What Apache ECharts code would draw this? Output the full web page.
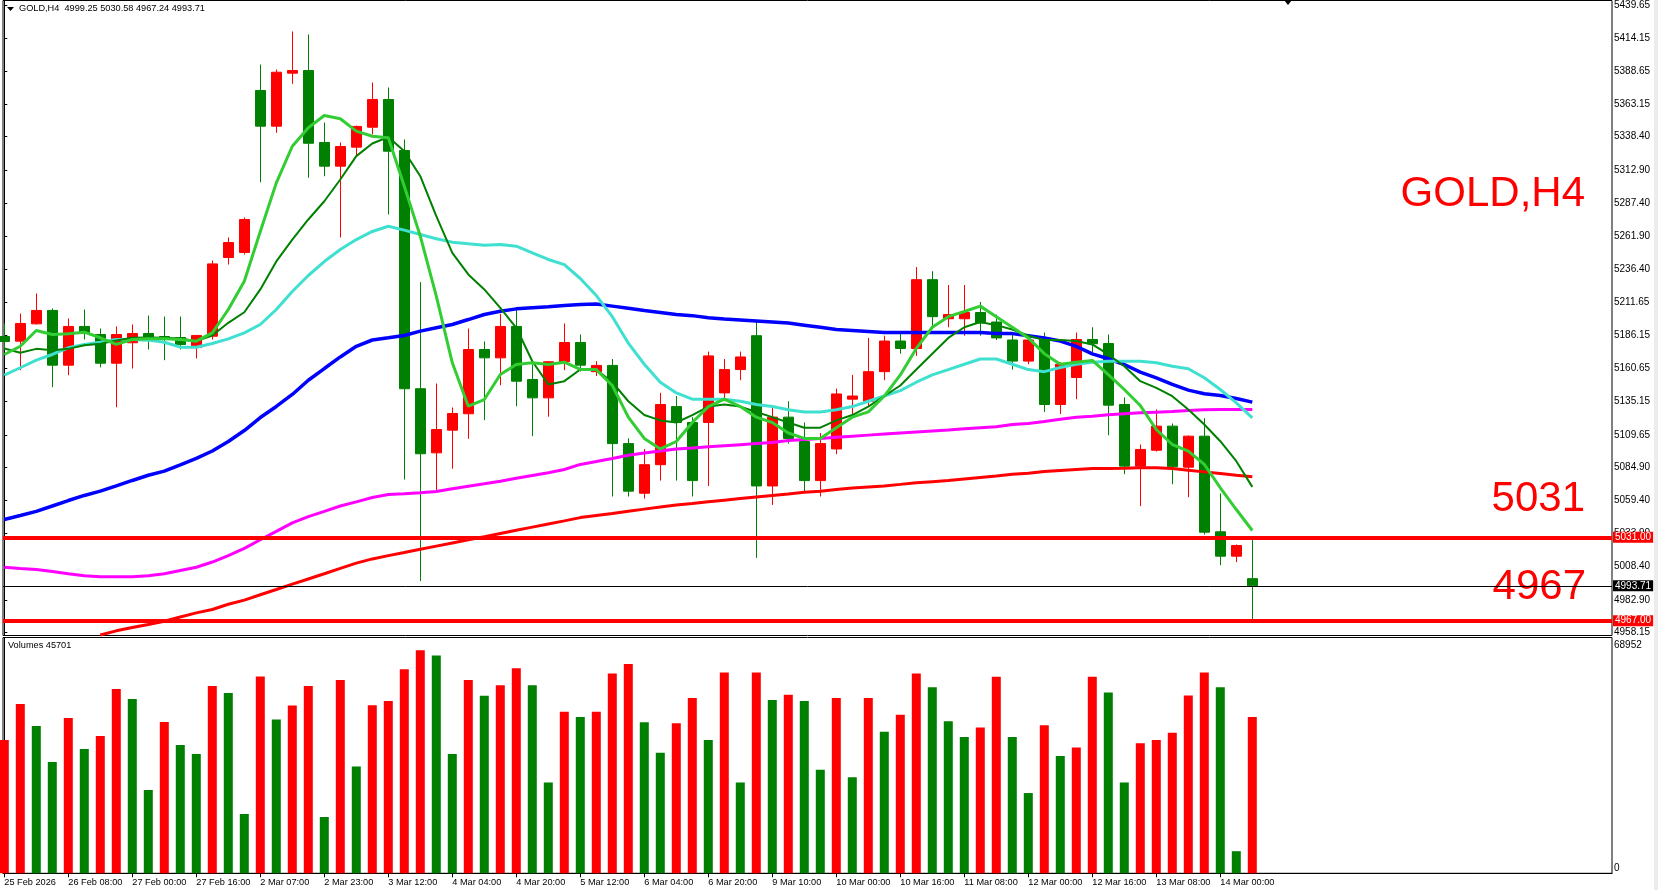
<!DOCTYPE html>
<html>
<head>
<meta charset="utf-8">
<title>GOLD,H4</title>
<script src="https://cdn.jsdelivr.net/npm/echarts@6/dist/echarts.min.js"></script>
<style>
  html, body { margin: 0; padding: 0; background: #fff; }
  #chart { width: 1658px; height: 890px; }
</style>
</head>
<body>
<div id="chart"></div>
<script>
// time labels, one every 4 bars
const timeLabels = ['25 Feb 2026', '26 Feb 08:00', '27 Feb 00:00', '27 Feb 16:00', '2 Mar 07:00', '2 Mar 23:00',
  '3 Mar 12:00', '4 Mar 04:00', '4 Mar 20:00', '5 Mar 12:00', '6 Mar 04:00', '6 Mar 20:00', '9 Mar 10:00',
  '10 Mar 00:00', '10 Mar 16:00', '11 Mar 08:00', '12 Mar 00:00', '12 Mar 16:00', '13 Mar 08:00', '14 Mar 00:00']

// price axis labels
const priceTicks = [5439.65, 5414.15, 5388.65, 5363.15, 5338.40, 5312.90, 5287.40, 5261.90, 5236.40, 5211.65,
  5186.15, 5160.65, 5135.15, 5109.65, 5084.90, 5059.40, 5033.90, 5008.40, 4982.90, 4958.15]

// H4 candles
const opens = [5185.1, 5181.5, 5194.8, 5205.1, 5163.1, 5192.8, 5186.6, 5164.6, 5180.3, 5187.4,
  5185.1, 5184.3, 5176.6, 5185.3, 5245.7, 5249.6, 5373.9, 5346.5, 5387.2, 5389.2,
  5334.0, 5315.8, 5330.4, 5345.7, 5367.0, 5327.8, 5145.0, 5095.8, 5113.2, 5125.8,
  5175.1, 5168.7, 5192.8, 5152.1, 5138.0, 5165.7, 5180.5, 5158.1, 5162.9, 5102.9,
  5064.8, 5086.7, 5131.3, 5119.1, 5119.1, 5141.8, 5159.7, 5185.7, 5070.4, 5123.2,
  5104.5, 5074.5, 5098.8, 5137.0, 5135.4, 5158.1, 5181.6, 5175.9, 5228.7, 5198.7,
  5198.7, 5203.5, 5196.2, 5182.4, 5166.2, 5184.0, 5132.9, 5153.6, 5182.8, 5179.7,
  5132.9, 5085.6, 5097.8, 5116.3, 5084.8, 5108.6, 5035.2, 5016.5, 4999.25]
const highs = [5195.0, 5202.7, 5218.1, 5206.6, 5198.9, 5205.8, 5191.2, 5192.8, 5194.3, 5201.2,
  5200.4, 5200.4, 5185.9, 5243.4, 5261.1, 5276.4, 5393.8, 5390.0, 5419.2, 5416.9,
  5349.3, 5334.0, 5347.0, 5380.0, 5376.2, 5336.3, 5226.8, 5149.0, 5130.6, 5191.2,
  5181.3, 5202.5, 5205.8, 5163.6, 5166.1, 5195.1, 5186.6, 5166.2, 5167.8, 5106.9,
  5098.8, 5141.8, 5139.4, 5123.2, 5173.5, 5167.8, 5173.5, 5197.8, 5131.3, 5135.4,
  5119.1, 5111.0, 5145.1, 5155.6, 5184.0, 5185.7, 5188.1, 5238.4, 5235.2, 5224.6,
  5224.6, 5211.6, 5201.9, 5188.1, 5185.7, 5188.1, 5165.4, 5188.1, 5192.2, 5186.6,
  5138.3, 5102.2, 5129.1, 5118.3, 5109.1, 5122.4, 5064.6, 5025.5, 5030.58]
const lows = [5175.0, 5159.2, 5194.3, 5146.2, 5155.4, 5182.8, 5161.5, 5130.8, 5160.5, 5175.1,
  5166.9, 5175.1, 5168.2, 5182.8, 5240.3, 5248.0, 5303.5, 5341.4, 5379.0, 5306.9,
  5308.1, 5261.1, 5323.5, 5340.1, 5278.7, 5075.3, 4997.4, 5067.1, 5083.6, 5106.6,
  5120.9, 5147.7, 5131.6, 5108.6, 5123.5, 5159.2, 5158.2, 5154.8, 5062.3, 5062.3,
  5060.7, 5074.5, 5074.5, 5062.3, 5070.4, 5135.4, 5151.6, 5015.2, 5055.8, 5102.9,
  5066.4, 5062.3, 5094.8, 5123.2, 5131.3, 5151.6, 5171.9, 5170.2, 5192.2, 5192.2,
  5185.7, 5185.7, 5182.4, 5159.7, 5163.8, 5127.2, 5125.6, 5137.0, 5173.0, 5109.3,
  5079.4, 5054.9, 5096.8, 5071.7, 5061.8, 5033.1, 5009.6, 5011.9, 4967.24]
const closes = [5181.3, 5195.1, 5205.1, 5163.1, 5192.8, 5187.9, 5164.6, 5186.6, 5187.4, 5182.8,
  5182.8, 5179.0, 5185.9, 5240.8, 5257.2, 5274.9, 5346.5, 5387.9, 5389.2, 5333.4,
  5315.8, 5330.9, 5346.3, 5367.0, 5327.3, 5145.0, 5095.1, 5113.7, 5126.0, 5175.1,
  5168.7, 5192.8, 5150.8, 5138.0, 5165.7, 5180.5, 5163.1, 5162.9, 5102.9, 5066.4,
  5086.7, 5132.9, 5119.1, 5074.5, 5170.2, 5159.7, 5169.4, 5070.4, 5123.2, 5106.9,
  5074.5, 5102.9, 5141.0, 5139.4, 5158.1, 5181.6, 5175.9, 5228.7, 5200.3, 5201.9,
  5203.5, 5195.4, 5184.0, 5166.2, 5182.4, 5132.9, 5163.8, 5182.8, 5179.5, 5132.4,
  5085.6, 5098.4, 5116.3, 5085.1, 5108.6, 5034.9, 5016.5, 5024.7, 4993.71]
const volumes = [38980, 49506, 43074, 32546, 45414, 36349, 40150, 53894, 50970, 24359,
  44244, 37518, 34886, 54772, 52725, 17341, 57567, 45004, 49097, 54772,
  16463, 56551, 31197, 49131, 50368, 59644, 65209, 63663, 34907, 56551,
  51913, 55005, 59952, 55005, 26559, 47276, 45730, 47276, 58407, 61190,
  44184, 35217, 43874, 51295, 38967, 58716, 26559, 58716, 50677, 52222,
  50368, 30269, 51295, 28105, 51295, 41401, 46348, 58407, 54387, 44493,
  39855, 42638, 57479, 39855, 23467, 43256, 34289, 36763, 57479, 52841,
  26559, 38040, 38967, 41131, 52000, 58716, 54387, 6461, 45701]

// moving averages
const maLime = [5171.3, 5177.6, 5189.7, 5186.6, 5187.2, 5188.4, 5184.1, 5179.0, 5182.8, 5183.3,
  5183.3, 5182.8, 5181.5, 5187.9, 5205.8, 5227.5, 5265.7, 5303.0, 5331.1, 5345.3,
  5354.7, 5352.2, 5342.7, 5338.8, 5337.6, 5300.4, 5262.1, 5216.0, 5164.9, 5131.6,
  5136.7, 5155.9, 5163.6, 5164.9, 5163.6, 5165.4, 5159.8, 5159.7, 5147.5, 5123.2,
  5106.9, 5098.8, 5104.5, 5119.1, 5131.3, 5137.0, 5131.3, 5123.2, 5119.1, 5111.0,
  5106.9, 5106.9, 5115.1, 5123.2, 5127.2, 5139.4, 5155.6, 5175.9, 5192.2, 5200.3,
  5204.3, 5208.4, 5200.3, 5192.2, 5184.0, 5171.9, 5163.8, 5165.4, 5166.7, 5155.9,
  5144.4, 5132.1, 5113.7, 5102.2, 5097.1, 5086.9, 5069.0, 5052.3, 5036.2]
const maGreen = [5175.9, 5172.6, 5175.6, 5174.6, 5175.6, 5178.4, 5179.5, 5182.0, 5184.1, 5184.3,
  5184.1, 5183.6, 5181.5, 5185.9, 5195.6, 5203.7, 5221.2, 5242.7, 5259.5, 5274.9,
  5288.9, 5305.6, 5323.5, 5333.2, 5338.2, 5327.3, 5308.1, 5277.4, 5249.3, 5232.7,
  5221.2, 5207.1, 5191.8, 5166.1, 5148.3, 5150.8, 5159.8, 5159.7, 5150.0, 5135.4,
  5124.8, 5120.7, 5119.1, 5124.8, 5131.3, 5132.9, 5131.3, 5127.2, 5123.2, 5119.1,
  5115.1, 5115.1, 5120.7, 5124.8, 5131.3, 5139.4, 5147.5, 5159.7, 5171.9, 5184.0,
  5192.2, 5196.2, 5193.8, 5190.5, 5185.7, 5182.4, 5182.4, 5181.6, 5179.0, 5171.3,
  5162.3, 5150.8, 5145.7, 5139.3, 5129.1, 5117.6, 5104.7, 5089.4, 5069.7]
const maTurquoise = [5155.4, 5161.1, 5166.9, 5171.3, 5176.4, 5179.0, 5180.7, 5182.8, 5182.8, 5182.3,
  5180.7, 5176.9, 5176.9, 5179.7, 5183.3, 5187.9, 5194.3, 5205.8, 5219.6, 5231.9,
  5242.6, 5251.9, 5259.5, 5265.7, 5269.7, 5266.7, 5263.4, 5260.1, 5257.5, 5256.2,
  5255.2, 5255.7, 5254.4, 5249.3, 5244.2, 5240.3, 5229.6, 5216.5, 5200.3, 5180.0,
  5163.8, 5150.0, 5141.8, 5137.0, 5137.0, 5137.0, 5135.4, 5132.9, 5131.3, 5128.9,
  5127.2, 5127.2, 5128.9, 5131.3, 5135.4, 5139.4, 5143.5, 5150.0, 5155.6, 5159.7,
  5163.8, 5167.8, 5167.8, 5163.8, 5159.7, 5158.1, 5161.3, 5163.8, 5165.4, 5166.1,
  5166.1, 5166.1, 5164.9, 5162.3, 5160.3, 5153.4, 5144.4, 5134.2, 5122.7]
const maBlue = [5044.6, 5047.7, 5050.9, 5055.0, 5059.2, 5063.1, 5066.4, 5070.4, 5074.6, 5078.6,
  5081.8, 5086.6, 5091.5, 5097.2, 5104.5, 5112.9, 5122.9, 5131.4, 5140.6, 5151.5,
  5160.5, 5169.4, 5177.6, 5182.4, 5184.1, 5185.9, 5189.2, 5191.8, 5194.3, 5198.1,
  5202.0, 5204.5, 5206.3, 5207.1, 5207.9, 5208.9, 5209.6, 5210.0, 5208.4, 5206.8,
  5205.1, 5203.5, 5201.9, 5201.1, 5199.5, 5198.6, 5197.8, 5197.0, 5196.2, 5195.4,
  5193.8, 5192.2, 5190.5, 5189.7, 5188.9, 5188.1, 5188.1, 5188.1, 5188.1, 5188.1,
  5188.1, 5188.1, 5187.3, 5187.3, 5185.7, 5184.0, 5181.6, 5177.5, 5171.8, 5168.0,
  5163.6, 5157.7, 5153.4, 5148.3, 5143.9, 5141.1, 5139.8, 5137.5, 5134.7]
const maMagenta = [5008.0, 5007.0, 5006.3, 5004.7, 5003.0, 5001.4, 5000.7, 5000.7, 5000.7, 5001.4,
  5003.0, 5005.5, 5008.0, 5012.0, 5016.9, 5022.5, 5029.1, 5035.5, 5042.0, 5046.9,
  5050.9, 5055.0, 5058.2, 5061.5, 5063.8, 5064.4, 5065.1, 5066.1, 5068.2, 5070.2,
  5072.0, 5074.0, 5076.3, 5078.4, 5080.5, 5083.0, 5086.9, 5089.1, 5091.5, 5094.0,
  5095.6, 5097.2, 5098.8, 5099.6, 5100.5, 5101.3, 5102.1, 5102.9, 5103.7, 5105.3,
  5106.1, 5106.9, 5107.8, 5108.6, 5109.4, 5110.2, 5111.0, 5111.8, 5112.6, 5113.4,
  5114.3, 5115.1, 5115.9, 5117.5, 5118.3, 5119.9, 5121.6, 5123.2, 5123.9, 5125.0,
  5125.8, 5126.5, 5127.0, 5127.5, 5128.3, 5128.8, 5129.1, 5129.1, 5129.1]
// slow red average is below the window for the first bars
const maRed = [null, null, null, null, null, null, 4956.0, 4959.2, 4961.8, 4964.1,
  4966.6, 4969.8, 4973.0, 4975.6, 4979.6, 4982.8, 4986.9, 4990.9, 4995.0, 4999.0,
  5003.0, 5007.1, 5011.2, 5014.4, 5016.9, 5019.3, 5021.8, 5024.2, 5026.6, 5029.1,
  5031.4, 5033.9, 5036.4, 5038.8, 5041.2, 5043.6, 5046.1, 5047.7, 5049.3, 5051.0,
  5052.6, 5054.2, 5055.8, 5057.0, 5058.3, 5059.5, 5060.7, 5061.9, 5063.1, 5064.3,
  5065.6, 5066.4, 5067.6, 5068.8, 5069.6, 5070.4, 5071.6, 5072.9, 5073.7, 5074.5,
  5075.7, 5076.9, 5078.1, 5079.4, 5080.2, 5081.4, 5082.2, 5083.0, 5083.8, 5083.8,
  5084.0, 5084.3, 5084.3, 5083.8, 5082.5, 5081.2, 5079.9, 5078.6, 5077.4]

const levelHigh = 5031.0
const levelLow = 4967.0
const volumeMax = 68952

const RED = '#FF0000'
const GREEN = '#008000'
const FONT = 'Liberation Sans'

// x axis: one unit per bar, 16px per bar, bar 0 sits just inside the frame
const xMin = -0.08125
const xMax = xMin + 1609 / 16
const last = closes.length - 1

const candleData = opens.map((o, i) => [i, o, closes[i], lows[i], highs[i]])
const volumeData = volumes.map((v, i) => ({
  value: [i, v],
  itemStyle: { color: i === 0 || v >= volumes[i - 1] ? RED : GREEN }
}))
const toLine = (arr) => arr.map((v, i) => [i, v]).filter((p) => p[1] !== null)
const tickIndex = timeLabels.map((_, i) => i * 4)

const maSeries = (name, arr, color, width) => ({
  name,
  type: 'line',
  xAxisIndex: 0,
  yAxisIndex: 0,
  data: toLine(arr),
  symbol: 'none',
  smooth: false,
  silent: true,
  lineStyle: { color, width },
  z: 3
})

const levelLabel = (bg) => ({
  show: true,
  position: 'end',
  distance: 1,
  formatter: (p) => p.value.toFixed(2),
  color: '#fff',
  backgroundColor: bg,
  padding: [1, 2, 0, 2],
  fontFamily: FONT,
  fontSize: 10
})

const chart = echarts.init(document.getElementById('chart'))

const option = {
  animation: false,
  backgroundColor: '#fff',
  grid: [
    { left: 3, top: 0.5, width: 1609, height: 635, show: true, borderColor: '#000', borderWidth: 1, outerBoundsMode: 'none' },
    { left: 3, top: 637.5, width: 1609, height: 235.8, show: true, borderColor: '#000', borderWidth: 1, outerBoundsMode: 'none' }
  ],
  xAxis: [
    { type: 'value', gridIndex: 0, min: xMin, max: xMax, show: false },
    {
      type: 'value',
      gridIndex: 1,
      min: xMin,
      max: xMax,
      splitLine: { show: false },
      axisLine: { show: true, lineStyle: { color: '#000', width: 1 } },
      axisTick: { show: true, customValues: tickIndex, length: 4, lineStyle: { color: '#000' } },
      axisLabel: {
        customValues: tickIndex,
        formatter: (v) => timeLabels[Math.round(v / 4)],
        align: 'left',
        margin: 5,
        color: '#000',
        fontFamily: FONT,
        fontSize: 9.2
      }
    }
  ],
  yAxis: [
    {
      type: 'value',
      gridIndex: 0,
      position: 'right',
      min: 4955.62,
      max: 5442.95,
      splitLine: { show: false },
      axisLine: { show: true, lineStyle: { color: '#000' } },
      axisTick: { show: true, customValues: priceTicks, length: 3, lineStyle: { color: '#000' } },
      axisLabel: {
        customValues: priceTicks,
        formatter: (v) => v.toFixed(2),
        margin: 2,
        color: '#000',
        fontFamily: FONT,
        fontSize: 10
      }
    },
    {
      type: 'value',
      gridIndex: 1,
      position: 'right',
      min: 0,
      max: volumeMax,
      splitLine: { show: false },
      axisLine: { show: true, lineStyle: { color: '#000' } },
      axisTick: { show: false },
      axisLabel: {
        customValues: [0, volumeMax],
        formatter: (v) => (v === 0 ? '{b|0}' : '{t|' + v + '}'),
        margin: 2,
        color: '#000',
        fontFamily: FONT,
        fontSize: 10,
        rich: {
          t: { padding: [15, 0, 0, 0], fontFamily: FONT, fontSize: 10 },
          b: { padding: [0, 0, 11, 0], fontFamily: FONT, fontSize: 10 }
        }
      }
    }
  ],
  series: [
    {
      name: 'GOLD',
      type: 'candlestick',
      xAxisIndex: 0,
      yAxisIndex: 0,
      data: candleData,
      barWidth: 10,
      clip: true,
      silent: true,
      itemStyle: { color: RED, color0: GREEN, borderColor: RED, borderColor0: GREEN, borderWidth: 1 },
      z: 2
    },
    maSeries('MA red', maRed, RED, 3),
    maSeries('MA magenta', maMagenta, '#FF00FF', 3),
    maSeries('MA blue', maBlue, '#0000FF', 3.5),
    maSeries('MA turquoise', maTurquoise, '#40E0D0', 3),
    maSeries('MA green', maGreen, GREEN, 2),
    maSeries('MA lime', maLime, '#32CD32', 3),
    {
      name: 'levels',
      type: 'line',
      xAxisIndex: 0,
      yAxisIndex: 0,
      data: [],
      z: 4,
      markLine: {
        silent: true,
        symbol: 'none',
        animation: false,
        data: [
          { yAxis: levelHigh, lineStyle: { color: RED, width: 4, type: 'solid' }, label: levelLabel(RED) },
          { yAxis: levelLow, lineStyle: { color: RED, width: 4, type: 'solid' }, label: levelLabel(RED) },
          { yAxis: closes[last], lineStyle: { color: '#000', width: 1, type: 'solid' }, label: levelLabel('#000') }
        ]
      }
    },
    {
      name: 'Volumes',
      type: 'bar',
      xAxisIndex: 1,
      yAxisIndex: 1,
      data: volumeData,
      barWidth: 9,
      silent: true
    }
  ],
  graphic: [
    // header
    { type: 'polygon', shape: { points: [[7, 7], [14, 7], [10.5, 11]] }, style: { fill: '#000' } },
    {
      type: 'text', left: 19, top: 4,
      style: {
        text: 'GOLD,H4  ' + [opens[last], highs[last], lows[last], closes[last]].map((v) => v.toFixed(2)).join(' '),
        fill: '#000', font: '9.2px "Liberation Sans"'
      }
    },
    { type: 'text', left: 8, top: 641, style: { text: 'Volumes ' + volumes[last], fill: '#000', font: '9.2px "Liberation Sans"' } },
    // chart shift marker
    { type: 'polygon', shape: { points: [[1284, 0], [1292, 0], [1288, 5]] }, style: { fill: '#000' } },
    { type: 'rect', shape: { x: 1654, y: 0, width: 4, height: 890 }, style: { fill: '#ececec' } },
    // big annotations
    { type: 'text', right: 73, top: 173, style: { text: 'GOLD,H4', fill: RED, font: '42px "Liberation Sans"' } },
    { type: 'text', right: 73, top: 478, style: { text: String(levelHigh), fill: RED, font: '42px "Liberation Sans"' } },
    { type: 'text', right: 72, top: 566, style: { text: String(levelLow), fill: RED, font: '42px "Liberation Sans"' } }
  ]
}

chart.setOption(option)
</script>
</body>
</html>
